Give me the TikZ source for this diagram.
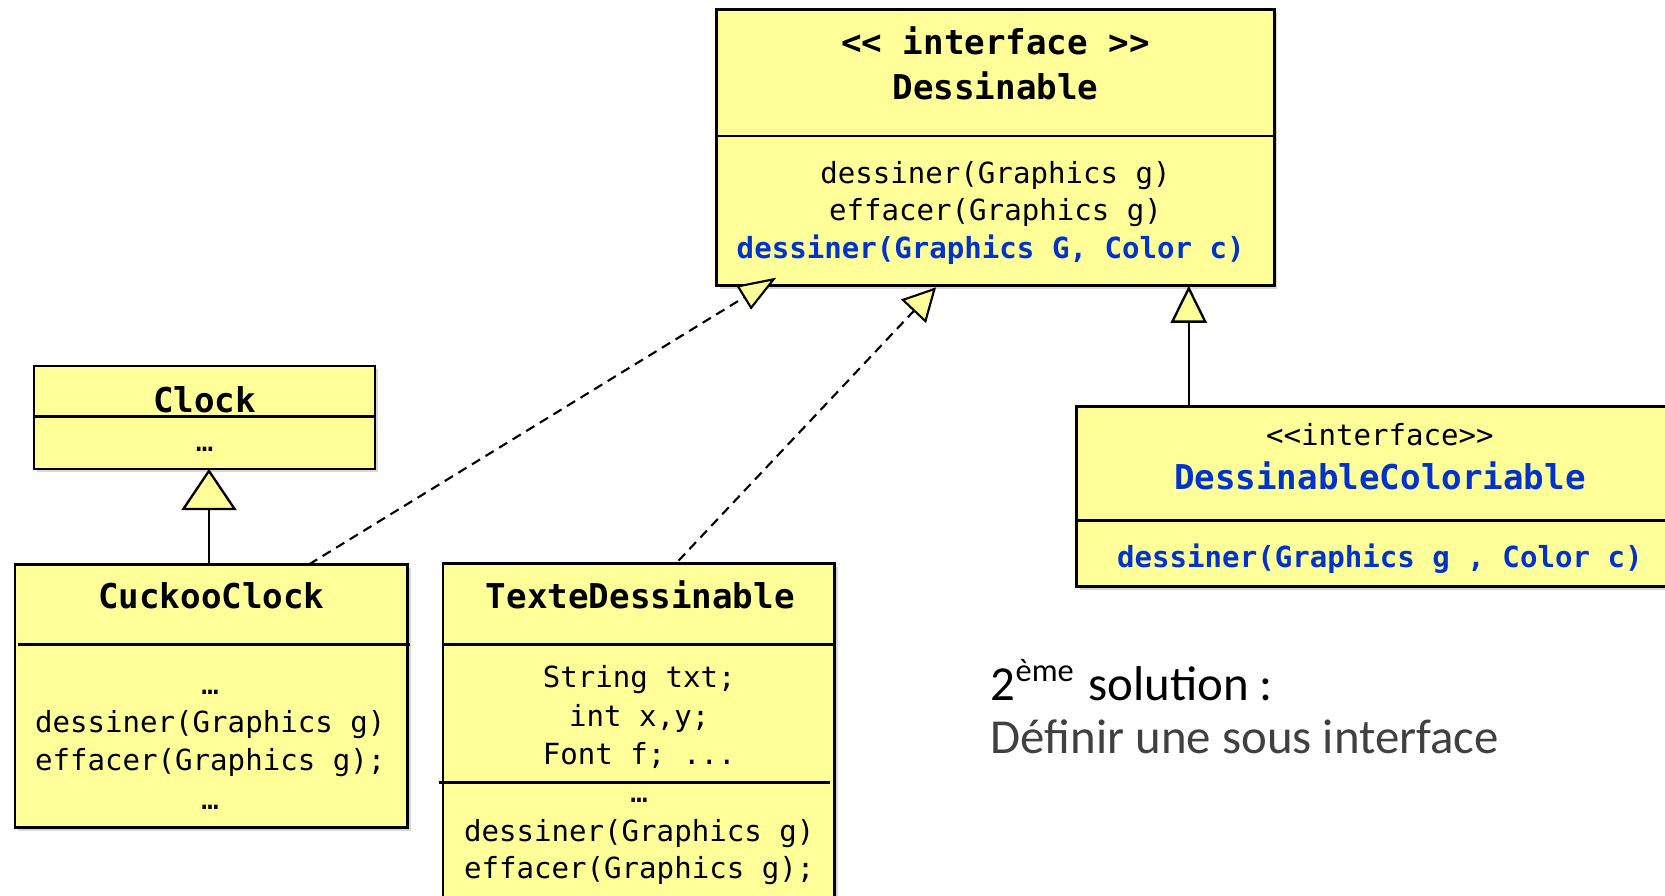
\documentclass[tikz,border=0pt]{standalone}
\usepackage{fontspec}
\setmonofont{DejaVu Sans Mono}
\newfontfamily\notefont{Carlito}
\usetikzlibrary{arrows.meta,shadows}
\definecolor{umlfill}{HTML}{FFFF99}
\definecolor{umlblue}{HTML}{0033CC}
\definecolor{notegray}{HTML}{404040}

\begin{document}
\begin{tikzpicture}[x=1pt,y=-1pt,
  classbox/.style={draw=black, line width=2.4pt, fill=umlfill, inner sep=0pt, outer sep=0pt,
    anchor=north west,
    drop shadow={shadow xshift=3pt, shadow yshift=-3pt, opacity=0.3}},
  divider/.style={draw=black, line width=2.4pt},
  body/.style={font=\ttfamily\fontsize{27.4}{33}\selectfont, inner sep=0pt, anchor=base},
  title/.style={font=\ttfamily\bfseries\fontsize{32.2}{38}\selectfont, inner sep=0pt, anchor=base},
  bodybold/.style={body, font=\ttfamily\bfseries\fontsize{27.4}{33}\selectfont},
  inherit/.style={draw=black, line width=2.2pt},
  realize/.style={draw=black, line width=2pt, dash pattern=on 9pt off 6pt},
  note/.style={font=\notefont\fontsize{46}{55}\selectfont, inner sep=0pt, anchor=base west}
]
\useasboundingbox (0,0) rectangle (1568,843);
\fill[white] (0,0) rectangle (1568,843);
\clip (0,0) rectangle (1568,843);

% ---- interface Dessinable ----
\node[classbox, minimum width=525pt, minimum height=260pt] (dess) at (675,9) {};
\draw[divider] (dess.west |- 0,128) -- (dess.east |- 0,128);
\node[title] (dessStereo) at (937.5,51.2) {<\kern0pt< interface >\kern0pt>};
\node[title] (dessName) at (937.5,93.5) {Dessinable};
\node[body] (dessM1) at (937.5,172.6) {dessiner(Graphics g)};
\node[body] (dessM2) at (937.5,208.1) {effacer(Graphics g)};
\node[bodybold, text=umlblue] (dessM3) at (933,243.3) {dessiner(Graphics G, Color c)};

% ---- class Clock ----
\node[classbox, minimum width=321pt, minimum height=97pt] (clock) at (32,344.5) {};
\draw[divider] (clock.west |- 0,392) -- (clock.east |- 0,392);
\node[title] (clockName) at (192.6,388) {Clock};
\node[body] (clockM) at (192.6,425) {…};

% ---- class CuckooClock ----
\node[classbox, minimum width=370pt, minimum height=248pt] (cuckoo) at (14,531.5) {};
\draw[divider] (17,607) -- (386,607);
\node[title] (cuckooName) at (199,573.5) {CuckooClock};
\node[body] (cuckooM1) at (198,653.6) {…};
\node[body] (cuckooM2) at (198,689.6) {dessiner(Graphics g)};
\node[body] (cuckooM3) at (198,725.7) {effacer(Graphics g);};
\node[body] (cuckooM4) at (198,762.3) {…};

% ---- class TexteDessinable ----
\node[classbox, minimum width=369pt, minimum height=340pt] (texte) at (417,530.5) {};
\draw[divider] (texte.west |- 0,607) -- (texte.east |- 0,607);
\draw[divider] (413,737) -- (782,737);
\node[title] (texteName) at (603,573.5) {TexteDessinable};
\node[body] (texteA1) at (602,647.2) {String txt;};
\node[body] (texteA2) at (602,683.8) {int x,y;};
\node[body] (texteA3) at (602,719.7) {Font f; ...};
\node[body] (texteM1) at (602,755.3) {…};
\node[body] (texteM2) at (602,792) {dessiner(Graphics g)};
\node[body] (texteM3) at (602,827.5) {effacer(Graphics g);};

% ---- interface DessinableColoriable ----
\node[classbox, minimum width=570pt, minimum height=169.5pt] (dcol) at (1014,383) {};
\draw[divider] (dcol.west |- 0,490) -- (dcol.east |- 0,490);
\node[body] (dcolStereo) at (1299.5,420) {<\kern0pt<interface>\kern0pt>};
\node[title, text=umlblue] (dcolName) at (1299.5,461) {DessinableColoriable};
\node[bodybold, text=umlblue] (dcolM) at (1299.5,534.3) {dessiner(Graphics g , Color c)};

% ---- relations ----
\draw[inherit, -{Triangle[length=39pt, width=52pt, fill=umlfill]}]
  (cuckoo.north -| 196.8,0) -- (clock.south -| 196.8,0);
\draw[inherit, -{Triangle[length=35pt, width=34pt, fill=umlfill]}]
  (dcol.north -| 1119.5,0) -- (dess.south -| 1119.5,0);
\draw[realize, -{Triangle[length=36pt, width=26pt, fill=umlfill]}]
  (cuckoo.north -| 291,0) -- ([shift={(56,-7.5)}]dess.south west);
\draw[realize, -{Triangle[length=31pt, width=32pt, fill=umlfill]}]
  ([shift={(222,-2.5)}]texte.north west) -- ([shift={(206.5,1.6)}]dess.south west);

% ---- note ----
\node[note] (noteTitle) at (933,660)
  {2\raisebox{18pt}{\fontsize{30.5}{36}\selectfont ème}\hspace{14pt}solution :};
\node[note, text=notegray] (noteBody) at (933,710) {Définir une sous interface};
\end{tikzpicture}
\end{document}
